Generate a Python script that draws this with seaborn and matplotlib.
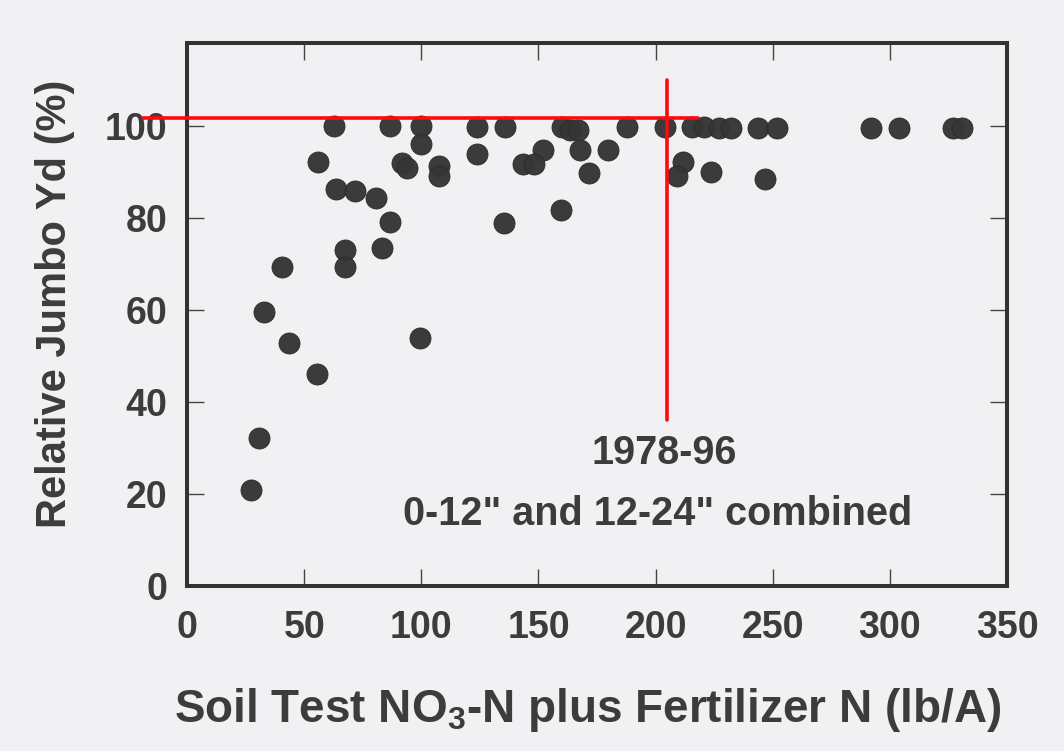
#!/usr/bin/env python3
"""
Relative jumbo yield vs soil test NO3-N plus fertilizer N (1978-96).
"""
import seaborn as sns
import matplotlib.pyplot as plt
import pandas as pd

# soil test NO3-N plus fertilizer N (lb/A)
soil_n = [62.7, 86.6, 99.7, 99.7, 55.8, 91.6, 93.8, 107.7, 107.7, 63.6,
          71.7, 80.7, 86.6, 83.1, 67.4, 67.4, 40.5, 32.7, 43.4, 99.4,
          55.5, 30.6, 27.5, 123.6, 135.9, 159.9, 163.5, 167.0, 187.9, 203.9,
          215.5, 220.5, 227.0, 232.0, 243.8, 251.7, 292.0, 304.0, 327.0, 330.6,
          123.6, 151.8, 143.5, 148.1, 167.7, 179.8, 171.7, 159.6, 135.4, 211.6,
          209.0, 223.8, 246.7]
# relative jumbo yield (%)
rel_yield = [100.0, 100.0, 100.0, 96.0, 92.2, 91.9, 90.8, 91.2, 89.0, 86.2,
             85.9, 84.4, 79.0, 73.5, 73.0, 69.4, 69.3, 59.5, 52.8, 53.8,
             46.0, 32.2, 20.9, 99.7, 99.7, 99.7, 99.1, 99.0, 99.7, 99.7,
             99.7, 99.7, 99.6, 99.6, 99.5, 99.5, 99.5, 99.5, 99.5, 99.5,
             93.9, 94.8, 91.7, 91.7, 94.8, 94.8, 89.8, 81.7, 78.8, 92.2,
             89.1, 90.0, 88.4]

x_ticks = [0, 50, 100, 150, 200, 250, 300, 350]
y_ticks = [0, 20, 40, 60, 80, 100]
period_label = "1978-96"
depth_label = '0-12" and 12-24" combined'

# red guide lines: plateau and critical N level
plateau_y = 101.8
plateau_x = [-19, 218]
critical_x = 204.7
critical_y = [36, 110]

BG = "#f1f1f3"
INK = "#3c3c3c"

sns.set_theme(style="ticks", rc={"axes.facecolor": BG, "figure.facecolor": BG})
plt.rcParams["font.family"] = ["Liberation Sans", "DejaVu Sans"]
plt.rcParams["font.weight"] = "bold"
plt.rcParams["mathtext.default"] = "regular"

df = pd.DataFrame({"soil_n": soil_n, "rel_yield": rel_yield})

fig = plt.figure(figsize=(10.64, 7.51), dpi=100)
ax = fig.add_axes([0.1758, 0.2197, 0.7707, 0.7230])

sns.scatterplot(data=df, x="soil_n", y="rel_yield", ax=ax, s=230,
                color="#353535", edgecolor="#2a2a2a", linewidth=0.6,
                alpha=0.97, zorder=3)

ax.plot(plateau_x, [plateau_y, plateau_y], color="#ff0a0a", lw=2.6,
        clip_on=False, zorder=4)
ax.plot([critical_x, critical_x], critical_y, color="#ff0a0a", lw=2.6,
        zorder=4)

ax.set_xlim(0, 350)
ax.set_ylim(0, 118)
ax.set_xticks(x_ticks)
ax.set_yticks(y_ticks)

for side in ["left", "right", "top", "bottom"]:
    ax.spines[side].set_visible(True)
    ax.spines[side].set_color("#333333")
    ax.spines[side].set_linewidth(2.9)

ax.tick_params(axis="both", direction="in", length=12, width=1.0,
               color="#444444", top=True, right=True, labelsize=27,
               labelcolor=INK)
ax.tick_params(axis="x", pad=17)
ax.tick_params(axis="y", pad=14)
for lab in ax.get_xticklabels() + ax.get_yticklabels():
    lab.set_fontweight("bold")

ax.set_xlabel("Soil Test NO$_3$-N plus Fertilizer N (lb/A)", fontsize=33,
              fontweight="bold", color=INK)
ax.xaxis.set_label_coords(0.489, -0.185)
ax.set_ylabel("Relative Jumbo Yd (%)", fontsize=30, fontweight="bold",
              color=INK)
ax.yaxis.set_label_coords(-0.137, 0.519)

ax.text(203.6, 29.0, period_label, ha="center", va="center", fontsize=28.5,
        fontweight="bold", color=INK)
ax.text(201, 15.6, depth_label, ha="center", va="center", fontsize=28.5,
        fontweight="bold", color=INK)

fig.savefig("out.png", dpi=100, facecolor=BG)
